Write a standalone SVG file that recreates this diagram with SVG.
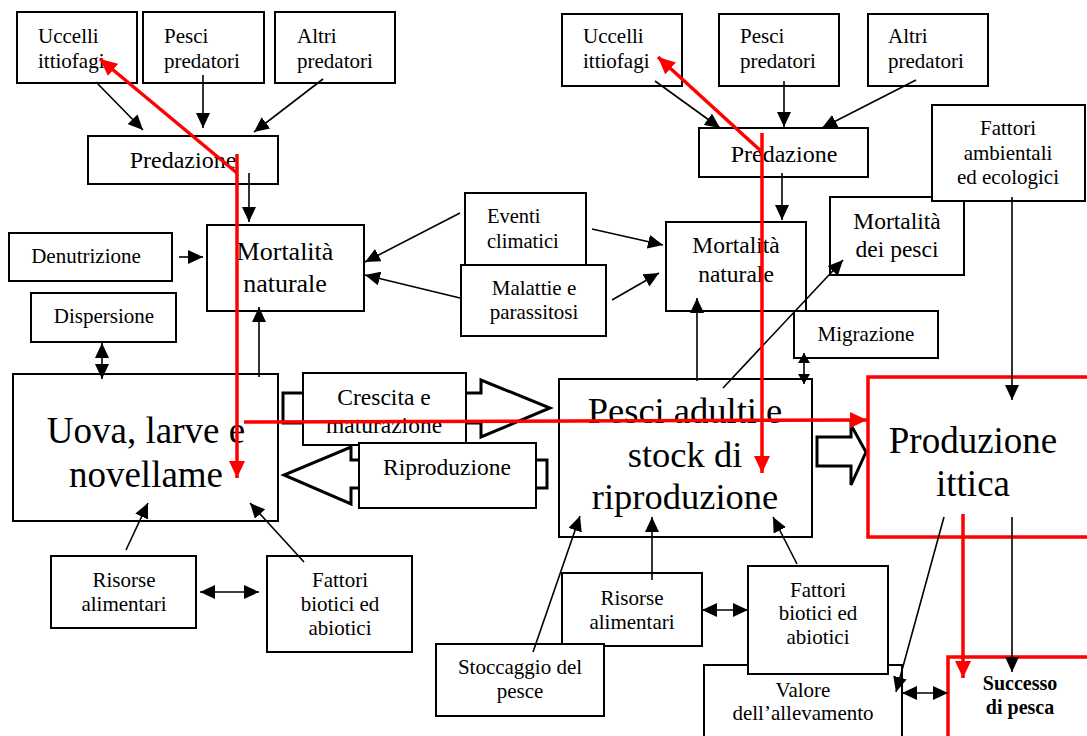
<svg xmlns="http://www.w3.org/2000/svg" width="1087" height="736" viewBox="0 0 1087 736" font-family="'Liberation Serif', 'Times New Roman', Tinos, 'DejaVu Serif', serif">
<style>
.b{fill:#fff;stroke:#000;stroke-width:2}
.r{fill:#fff;stroke:#f00;stroke-width:3.5}
.ba{fill:#fff;stroke:#000;stroke-width:3;stroke-linejoin:miter}
text{font-family:'Liberation Serif','Times New Roman',Tinos,'DejaVu Serif',serif;fill:#000}
.s{font-size:21px}
.m{font-size:23.5px}
.l{font-size:37px}
.c{text-anchor:middle}
.bd{font-weight:bold;font-size:20px}
.k{fill:none;stroke:#000;stroke-width:1.6}
.rd{fill:none;stroke:#f00;stroke-width:3.5}
</style>
<defs>
<marker id="ah" markerUnits="userSpaceOnUse" markerWidth="16" markerHeight="14" refX="15" refY="7" orient="auto-start-reverse"><path d="M0,0 L15,7 L0,14 z" fill="#000"/></marker>
<marker id="ahs" markerUnits="userSpaceOnUse" markerWidth="11" markerHeight="12" refX="10" refY="6" orient="auto-start-reverse"><path d="M0,0 L10,6 L0,12 z" fill="#000"/></marker>
<marker id="rh" markerUnits="userSpaceOnUse" markerWidth="18" markerHeight="16" refX="17" refY="8" orient="auto"><path d="M0,0 L17,8 L0,16 z" fill="#f00"/></marker>
</defs>
<rect width="1087" height="736" fill="#fff"/>

<g id="uccelli1"><rect class="b" x="17" y="12" width="120" height="71"/><text class="s" x="38" y="43">Uccelli</text><text class="s" x="38" y="68">ittiofagi</text></g>
<g id="pesci1"><rect class="b" x="143" y="12" width="121" height="71"/><text class="s" x="164" y="43">Pesci</text><text class="s" x="164" y="68">predatori</text></g>
<g id="altri1"><rect class="b" x="275" y="12" width="120" height="71"/><text class="s" x="297" y="43">Altri</text><text class="s" x="297" y="68">predatori</text></g>
<g id="predazione1"><rect class="b" x="88" y="136" width="190" height="48"/><text class="c" x="183" y="168" font-size="24">Predazione</text></g>
<g id="mortalita1"><rect class="b" x="207" y="225" width="157" height="86"/><text class="c" x="285" y="260" font-size="26">Mortalità</text><text class="c" x="285" y="292" font-size="26">naturale</text></g>
<g id="denutrizione"><rect class="b" x="9" y="233" width="163" height="48"/><text class="s c" x="86" y="263">Denutrizione</text></g>
<g id="dispersione"><rect class="b" x="31" y="293" width="145" height="49"/><text class="s c" x="104" y="323">Dispersione</text></g>
<g id="uova"><rect class="b" x="13" y="374" width="265" height="147"/><text class="l c" x="146" y="443">Uova, larve e</text><text class="l c" x="146" y="487">novellame</text></g>
<g id="risorse1"><rect class="b" x="51" y="556" width="145" height="72"/><text class="s c" x="124" y="587">Risorse</text><text class="s c" x="124" y="611">alimentari</text></g>
<g id="fattori1"><rect class="b" x="267" y="556" width="145" height="96"/><text class="s c" x="340" y="587">Fattori</text><text class="s c" x="340" y="611">biotici ed</text><text class="s c" x="340" y="635">abiotici</text></g>

<g id="eventi"><rect class="b" x="465" y="193" width="121" height="75"/><text x="487" y="223" font-size="20.5">Eventi</text><text x="487" y="248" font-size="20.5">climatici</text></g>
<g id="malattie"><rect class="b" x="461" y="265" width="145" height="71"/><text class="s c" x="534" y="295">Malattie e</text><text class="s c" x="534" y="319">parassitosi</text></g>

<g id="crescita"><polygon class="ba" points="283,393 481,393 481,380 550,408 481,437 481,423 283,423"/><rect class="b" x="303" y="373" width="163" height="72"/><text class="m c" x="384" y="405">Crescita e</text><text class="m c" x="384" y="433">maturazione</text></g>
<g id="riproduzione"><polygon class="ba" points="547,460 351,460 351,447 284,475 351,504 351,488 547,488"/><rect class="b" x="359" y="443" width="177" height="65"/><text class="m c" x="447" y="475">Riproduzione</text></g>

<g id="uccelli2"><rect class="b" x="562" y="14" width="120" height="72"/><text class="s" x="583" y="43">Uccelli</text><text class="s" x="583" y="68">ittiofagi</text></g>
<g id="pesci2"><rect class="b" x="719" y="14" width="120" height="72"/><text class="s" x="740" y="43">Pesci</text><text class="s" x="740" y="68">predatori</text></g>
<g id="altri2"><rect class="b" x="868" y="14" width="120" height="72"/><text class="s" x="888" y="43">Altri</text><text class="s" x="888" y="68">predatori</text></g>
<g id="predazione2"><rect class="b" x="699" y="128" width="169" height="49"/><text class="c" x="784" y="162" font-size="24">Predazione</text></g>
<g id="mortalita2"><rect class="b" x="666" y="222" width="140" height="89"/><text class="m c" x="736" y="253">Mortalità</text><text class="m c" x="736" y="282">naturale</text></g>
<g id="mortalita-pesci"><rect class="b" x="830" y="197" width="134" height="78"/><text class="m c" x="897" y="229">Mortalità</text><text class="m c" x="897" y="257">dei pesci</text></g>
<g id="fattori-ambientali"><rect class="b" x="932" y="105" width="153" height="96"/><text class="s c" x="1008" y="135">Fattori</text><text class="s c" x="1008" y="160">ambientali</text><text class="s c" x="1008" y="184">ed ecologici</text></g>
<g id="migrazione"><rect class="b" x="794" y="311" width="144" height="47"/><text class="s c" x="866" y="341">Migrazione</text></g>
<g id="pesci-adulti"><rect class="b" x="559" y="379" width="253" height="158"/><text class="c" x="685" y="423" font-size="36.5">Pesci adulti e</text><text class="c" x="685" y="467" font-size="36.5">stock di</text><text class="c" x="685" y="509" font-size="36.5">riproduzione</text></g>
<g id="freccia-produzione"><polygon class="ba" points="817,437 851,437 851,425 866,452 851,485 851,466 817,466"/></g>
<g id="produzione"><rect class="r" x="868" y="377" width="222" height="160"/><text class="l c" x="973" y="453">Produzione</text><text class="l c" x="973" y="496">ittica</text></g>
<g id="risorse2"><rect class="b" x="562" y="573" width="140" height="73"/><text class="s c" x="632" y="605">Risorse</text><text class="s c" x="632" y="629">alimentari</text></g>
<g id="stoccaggio"><rect class="b" x="436" y="644" width="168" height="72"/><text class="s c" x="520" y="674">Stoccaggio del</text><text class="s c" x="520" y="698">pesce</text></g>
<g id="valore"><rect class="b" x="704" y="665" width="198" height="80"/><text class="s c" x="803" y="697">Valore</text><text class="s c" x="803" y="720">dell’allevamento</text></g>
<g id="fattori2"><rect class="b" x="748" y="566" width="140" height="108"/><text class="s c" x="818" y="597">Fattori</text><text class="s c" x="818" y="620">biotici ed</text><text class="s c" x="818" y="644">abiotici</text></g>
<g id="successo"><rect class="r" x="948" y="657" width="142" height="85"/><text class="bd c" x="1020" y="690">Successo</text><text class="bd c" x="1020" y="714">di pesca</text></g>

<g id="connectors">
<line class="k" x1="96" y1="82" x2="143" y2="130" marker-end="url(#ah)"/>
<line class="k" x1="203" y1="75" x2="203" y2="128" marker-end="url(#ah)"/>
<line class="k" x1="323" y1="79" x2="254" y2="132" marker-end="url(#ah)"/>
<line class="k" x1="249" y1="173" x2="249" y2="222" marker-end="url(#ah)"/>
<line class="k" x1="179" y1="257" x2="203" y2="257" marker-end="url(#ah)"/>
<line class="k" x1="102" y1="343" x2="102" y2="379" marker-start="url(#ah)" marker-end="url(#ah)"/>
<line class="k" x1="259" y1="377" x2="259" y2="307" marker-end="url(#ah)"/>
<line class="k" x1="460" y1="213" x2="365" y2="262" marker-end="url(#ah)"/>
<line class="k" x1="460" y1="298" x2="365" y2="275" marker-end="url(#ah)"/>
<line class="k" x1="592" y1="229" x2="663" y2="245" marker-end="url(#ah)"/>
<line class="k" x1="612" y1="300" x2="659" y2="273" marker-end="url(#ah)"/>
<line class="k" x1="126" y1="550" x2="148" y2="503" marker-end="url(#ah)"/>
<line class="k" x1="304" y1="562" x2="250" y2="503" marker-end="url(#ah)"/>
<line class="k" x1="200" y1="592" x2="259" y2="592" marker-start="url(#ah)" marker-end="url(#ah)"/>
<line class="k" x1="655" y1="81" x2="720" y2="128" marker-end="url(#ah)"/>
<line class="k" x1="784" y1="81" x2="784" y2="127" marker-end="url(#ah)"/>
<line class="k" x1="916" y1="80" x2="822" y2="128" marker-end="url(#ah)"/>
<line class="k" x1="782" y1="173" x2="782" y2="220" marker-end="url(#ah)"/>
<line class="k" x1="697" y1="381" x2="697" y2="298" marker-end="url(#ah)"/>
<line class="k" x1="723" y1="388" x2="843" y2="260" marker-end="url(#ah)"/>
<line class="k" x1="804" y1="353" x2="804" y2="384" marker-start="url(#ahs)" marker-end="url(#ahs)"/>
<line class="k" x1="1012" y1="197" x2="1012" y2="400" marker-end="url(#ah)"/>
<line class="k" x1="533" y1="652" x2="580" y2="516" marker-end="url(#ah)"/>
<line class="k" x1="652" y1="580" x2="652" y2="517" marker-end="url(#ah)"/>
<line class="k" x1="797" y1="564" x2="773" y2="517" marker-end="url(#ah)"/>
<line class="k" x1="702" y1="610" x2="748" y2="610" marker-start="url(#ah)" marker-end="url(#ah)"/>
<line class="k" x1="944" y1="517" x2="896" y2="692" marker-end="url(#ah)"/>
<line class="k" x1="1012" y1="517" x2="1012" y2="672" marker-end="url(#ah)"/>
<line class="k" x1="902" y1="693" x2="948" y2="693" marker-start="url(#ah)" marker-end="url(#ah)"/>
<line class="rd" x1="237" y1="154" x2="237" y2="478" marker-end="url(#rh)"/>
<line class="rd" x1="237" y1="173" x2="100" y2="59" marker-end="url(#rh)"/>
<line class="rd" x1="244" y1="422" x2="867" y2="420" marker-end="url(#rh)"/>
<line class="rd" x1="762" y1="133" x2="762" y2="473" marker-end="url(#rh)"/>
<line class="rd" x1="762" y1="152" x2="658" y2="57" marker-end="url(#rh)"/>
<line class="rd" x1="963" y1="514" x2="963" y2="678" marker-end="url(#rh)"/>
</g>
</svg>
